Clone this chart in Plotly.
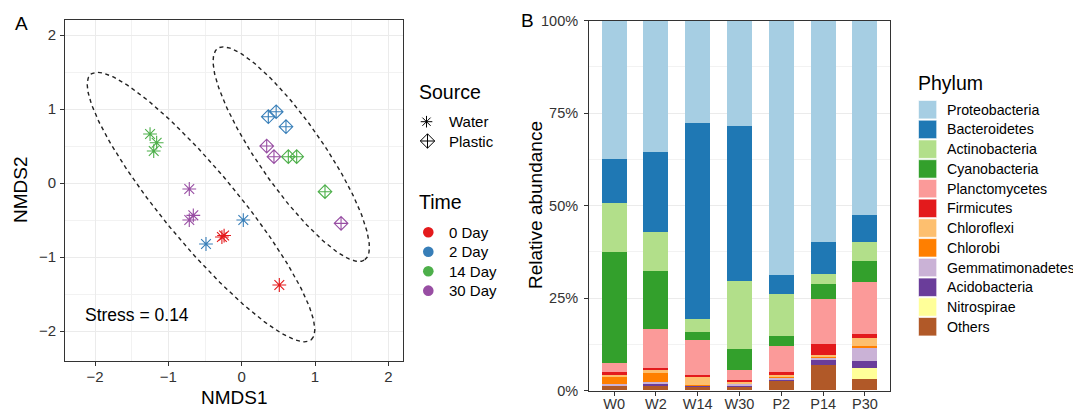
import numpy as np
import plotly.graph_objects as go

# ---------------- Panel A data (NMDS) ----------------
water_x = [-1.25, -1.16, -1.20, -0.715, -0.66, -0.715, 0.022, -0.487, -0.27, -0.24, 0.513]
water_y = [0.662, 0.545, 0.432, -0.081, -0.437, -0.50, -0.50, -0.824, -0.73, -0.71, -1.378]
water_time = ["14 Day", "14 Day", "14 Day", "30 Day", "30 Day", "30 Day",
              "2 Day", "2 Day", "0 Day", "0 Day", "0 Day"]

plastic_x = [0.363, 0.47, 0.604, 0.341, 0.44, 1.355, 0.636, 0.75, 1.136]
plastic_y = [0.896, 0.963, 0.761, 0.50, 0.356, -0.545, 0.356, 0.356, -0.117]
plastic_time = ["2 Day", "2 Day", "2 Day", "30 Day", "30 Day", "30 Day",
                "14 Day", "14 Day", "14 Day"]

time_levels = ["0 Day", "2 Day", "14 Day", "30 Day"]
time_colors = ["#E41A1C", "#377EB8", "#4DAF4A", "#984EA3"]

# ellipse parameters per source (center, semi-axes, angle in degrees)
ell_source = ["Water", "Plastic"]
ell_cx = [-0.555, 0.675]
ell_cy = [-0.325, 0.39]
ell_a = [2.34, 1.745]
ell_b = [0.50, 0.44]
ell_angle = [-50.0, -54.9]

stress_label = "Stress = 0.14"

# ---------------- Panel B data (relative abundance, %) ----------------
samples = ["W0", "W2", "W14", "W30", "P2", "P14", "P30"]
phyla = ["Proteobacteria", "Bacteroidetes", "Actinobacteria", "Cyanobacteria",
         "Planctomycetes", "Firmicutes", "Chloroflexi", "Chlorobi",
         "Gemmatimonadetes", "Acidobacteria", "Nitrospirae", "Others"]
phylum_colors = ["#A6CEE3", "#1F78B4", "#B2DF8A", "#33A02C", "#FB9A99", "#E31A1C",
                 "#FDBF6F", "#FF7F00", "#CAB2D6", "#6A3D9A", "#FFFF99", "#B15928"]

Proteobacteria   = [37.3, 35.6, 27.7, 28.4, 68.8, 59.9, 52.5]
Bacteroidetes    = [12.1, 21.6, 52.9, 42.1, 5.0, 8.5, 7.4]
Actinobacteria   = [13.1, 10.6, 3.5, 18.4, 11.4, 2.7, 5.1]
Cyanobacteria    = [30.2, 15.6, 2.4, 5.6, 2.8, 4.1, 5.7]
Planctomycetes   = [2.2, 10.5, 9.35, 2.7, 6.95, 12.3, 14.1]
Firmicutes       = [0.8, 0.6, 0.45, 0.6, 0.9, 2.8, 0.9]
Chloroflexi      = [0.35, 0.45, 2.25, 0.25, 0.4, 0.4, 2.2]
Chlorobi         = [2.3, 2.7, 0.05, 0.1, 0.25, 0.3, 0.5]
Gemmatimonadetes = [0.15, 0.35, 0.05, 0.3, 0.35, 0.5, 3.7]
Acidobacteria    = [0.2, 0.5, 0.3, 0.35, 0.55, 1.7, 1.8]
Nitrospirae      = [0.0, 0.0, 0.0, 0.0, 0.0, 0.0, 2.9]
Others           = [1.3, 1.5, 1.1, 1.2, 2.6, 6.8, 3.2]

abund = [Proteobacteria, Bacteroidetes, Actinobacteria, Cyanobacteria, Planctomycetes,
         Firmicutes, Chloroflexi, Chlorobi, Gemmatimonadetes, Acidobacteria,
         Nitrospirae, Others]

pct_ticks = [0, 25, 50, 75, 100]
pct_labels = ["0%", "25%", "50%", "75%", "100%"]

# ---------------- page geometry ----------------
# the page body has an 8px margin, so the figure is shrunk by that and
# all target positions (in window pixels) are shifted accordingly
OX, OY = 8, 8
W, H = 1081 - OX, 409 - OY

def fx(x):
    return (x - OX) / W

def fy(y):
    return 1 - (y - OY) / H

def pp(x, y):
    return fx(x), fy(y)

FONT = "Liberation Sans, Arial, sans-serif"
fig = go.Figure()

# ---- Panel A: ellipses ----
for i, src in enumerate(ell_source):
    t = np.linspace(0, 2 * np.pi, 240)
    th = np.deg2rad(ell_angle[i])
    ex = ell_cx[i] + ell_a[i] * np.cos(t) * np.cos(th) - ell_b[i] * np.sin(t) * np.sin(th)
    ey = ell_cy[i] + ell_a[i] * np.cos(t) * np.sin(th) + ell_b[i] * np.sin(t) * np.cos(th)
    fig.add_trace(go.Scatter(x=ex, y=ey, mode="lines", xaxis="x", yaxis="y",
                             line=dict(color="#222222", width=1.4, dash="4px,3.5px"),
                             hoverinfo="skip", showlegend=False))

# ---- Panel A: points ----
for lvl, col in zip(time_levels, time_colors):
    wx = [x for x, tt in zip(water_x, water_time) if tt == lvl]
    wy = [y for y, tt in zip(water_y, water_time) if tt == lvl]
    if wx:
        fig.add_trace(go.Scatter(x=wx, y=wy, mode="markers", xaxis="x", yaxis="y",
                                 marker=dict(symbol="asterisk-open", size=11.5, color=col,
                                             line=dict(color=col, width=1.1)),
                                 name="Water " + lvl, showlegend=False))
    px_ = [x for x, tt in zip(plastic_x, plastic_time) if tt == lvl]
    py_ = [y for y, tt in zip(plastic_y, plastic_time) if tt == lvl]
    if px_:
        fig.add_trace(go.Scatter(x=px_, y=py_, mode="markers", xaxis="x", yaxis="y",
                                 marker=dict(symbol="diamond-cross-open", size=10.5, color=col,
                                             line=dict(color=col, width=1.1)),
                                 name="Plastic " + lvl, showlegend=False))

# ---- Panel B: stacked bars (first phylum on top) ----
for name, col, vals in reversed(list(zip(phyla, phylum_colors, abund))):
    fig.add_trace(go.Bar(x=samples, y=vals, name=name, xaxis="x2", yaxis="y2",
                         marker=dict(color=col, line=dict(width=0)), width=0.6,
                         showlegend=False))

# ---------------- layout ----------------
def axcommon(size):
    return dict(showline=True, mirror=True, linecolor="#333333", linewidth=1,
                ticks="outside", ticklen=4, tickcolor="#333333", zeroline=False,
                automargin=False,
                tickfont=dict(family=FONT, size=size, color="#333333"))

fig.update_layout(
    width=W, height=H, margin=dict(l=0, r=0, t=0, b=0, autoexpand=False),
    paper_bgcolor="white", plot_bgcolor="white", barmode="stack", bargap=0.4,
    font=dict(family=FONT, color="black"), showlegend=False,
    xaxis=dict(domain=[fx(65), fx(403)], range=[-2.41, 2.20], dtick=1, tick0=0,
               showgrid=True, gridcolor="#EBEBEB", gridwidth=1,
               minor=dict(showgrid=True, dtick=0.5, gridcolor="#F2F2F2", gridwidth=0.6),
               ticklabelstandoff=-2,
               anchor="y", **axcommon(15)),
    yaxis=dict(domain=[fy(361), fy(20)], range=[-2.405, 2.203], dtick=1, tick0=0,
               showgrid=True, gridcolor="#EBEBEB", gridwidth=1,
               minor=dict(showgrid=True, dtick=0.5, gridcolor="#F2F2F2", gridwidth=0.6),
               ticklabelstandoff=1,
               anchor="x", **axcommon(15)),
    xaxis2=dict(domain=[fx(589), fx(890)], type="category", range=[-0.6, 6.6],
                showgrid=False, anchor="y2", ticklabelstandoff=-4, **axcommon(14.5)),
    yaxis2=dict(domain=[fy(390.5), fy(20.7)], range=[0, 100],
                tickmode="array", tickvals=pct_ticks, ticktext=pct_labels,
                showgrid=True, gridcolor="#EBEBEB", gridwidth=1,
                minor=dict(showgrid=True, tickvals=[12.5, 37.5, 62.5, 87.5],
                           gridcolor="#F2F2F2", gridwidth=0.6),
                ticklabelstandoff=3,
                anchor="x2", **axcommon(14.5)),
)

annotations = []
shapes = []

def text(x, y, s, size, xanchor="left", angle=0):
    if xanchor == "left":
        x -= 2  # compensate annotation padding
    ax_, ay_ = pp(x, y)
    annotations.append(dict(x=ax_, y=ay_, xref="paper", yref="paper", text=s, showarrow=False,
                            xanchor=xanchor, yanchor="middle", textangle=angle,
                            font=dict(family=FONT, size=size, color="black")))

# axis titles
text(234, 397, "NMDS1", 19, "center")
text(21, 190, "NMDS2", 19, "center", -90)
text(536, 205, "Relative abundance", 19, "center", -90)

# panel tags
text(21, 23, "A", 19, "center")
text(527, 21, "B", 19, "center")

# stress label in data coordinates
annotations.append(dict(x=-2.17, y=-1.78, xref="x", yref="y", text=stress_label, showarrow=False,
                        xanchor="left", yanchor="middle",
                        font=dict(family=FONT, size=17.5, color="black")))

# ---- Source / Time legend (drawn) ----
text(419, 92, "Source", 19.5)
cx, cy, r = 426.5, 121.7, 5.8
for ang in [0, 45, 90, 135]:
    dx, dy = r * np.cos(np.deg2rad(ang)), r * np.sin(np.deg2rad(ang))
    x0, y0 = pp(cx - dx, cy - dy)
    x1, y1 = pp(cx + dx, cy + dy)
    shapes.append(dict(type="line", xref="paper", yref="paper", x0=x0, y0=y0, x1=x1, y1=y1,
                       line=dict(color="black", width=1)))
text(449.3, 121.7, "Water", 15)
cx, cy, r = 427.5, 141, 7.2
pts = [pp(cx - r, cy), pp(cx, cy - r), pp(cx + r, cy), pp(cx, cy + r)]
path = "M{},{} L{},{} L{},{} L{},{} Z".format(*[v for p in pts for v in p])
shapes.append(dict(type="path", xref="paper", yref="paper", path=path,
                   line=dict(color="black", width=1)))
for (a0, a1) in [((cx - r, cy), (cx + r, cy)), ((cx, cy - r), (cx, cy + r))]:
    x0, y0 = pp(*a0)
    x1, y1 = pp(*a1)
    shapes.append(dict(type="line", xref="paper", yref="paper", x0=x0, y0=y0, x1=x1, y1=y1,
                       line=dict(color="black", width=1)))
text(449.3, 141, "Plastic", 15)

text(419, 202, "Time", 19.5)
for i, (lvl, col) in enumerate(zip(time_levels, time_colors)):
    cy = 232.3 + i * 19.45
    x0, y0 = pp(428.3 - 5.3, cy + 5.3)
    x1, y1 = pp(428.3 + 5.3, cy - 5.3)
    shapes.append(dict(type="circle", xref="paper", yref="paper", x0=x0, y0=y0, x1=x1, y1=y1,
                       fillcolor=col, line=dict(width=0)))
    text(449.3, cy, lvl, 15)

# ---- Phylum legend (drawn) ----
text(918.3, 83, "Phylum", 19.5)
for i, (name, col) in enumerate(zip(phyla, phylum_colors)):
    cy = 109.7 + i * 19.73
    x0, y0 = pp(918.5, cy + 9.2)
    x1, y1 = pp(936.7, cy - 9.2)
    shapes.append(dict(type="rect", xref="paper", yref="paper", x0=x0, y0=y0, x1=x1, y1=y1,
                       fillcolor=col, line=dict(color="white", width=0.6)))
    text(946.7, cy, name, 14.2)

fig.update_layout(annotations=annotations, shapes=shapes)
fig.write_html("out.html")
